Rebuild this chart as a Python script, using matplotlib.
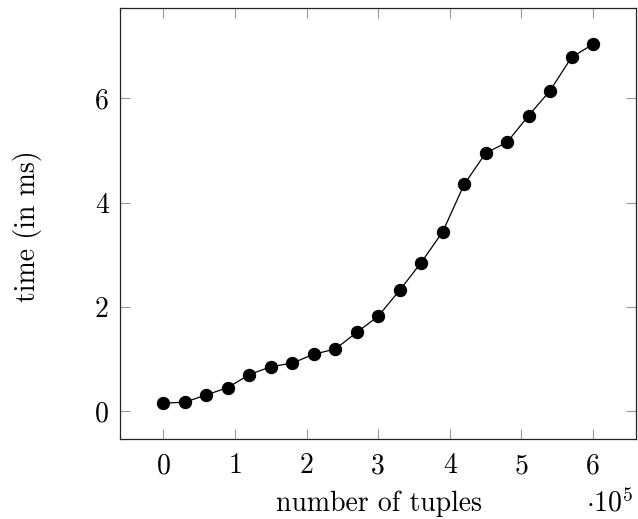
import matplotlib
matplotlib.use("Agg")
import matplotlib.pyplot as plt

n_tuples = [0, 30000, 60000, 90000, 120000, 150000, 180000, 210000, 240000, 270000,
            300000, 330000, 360000, 390000, 420000, 450000, 480000, 510000, 540000,
            570000, 600000]
time_ms = [0.15, 0.17, 0.31, 0.45, 0.70, 0.85, 0.92, 1.09, 1.19, 1.51,
           1.82, 2.32, 2.85, 3.44, 4.35, 4.95, 5.16, 5.67, 6.15, 6.79, 7.04]
x_ticks = [0, 1, 2, 3, 4, 5, 6]
y_ticks = [0, 2, 4, 6]

plt.rcParams['font.family'] = ['cmr10', 'DejaVu Serif']
plt.rcParams['mathtext.fontset'] = 'cm'
plt.rcParams['axes.formatter.use_mathtext'] = True

W, H = 638, 519
fig = plt.figure(figsize=(W/100, H/100), dpi=100)
ax = fig.add_axes([120.5/W, 1-439/H, 515.5/W, 430.7/H])

scale = 1e5
ax.plot([v/scale for v in n_tuples], time_ms, color='black', lw=0.9,
        marker='o', markersize=8.6, markerfacecolor='black', markeredgecolor='black')

ax.set_xlim(-0.6, 6.6)
ax.set_ylim(-0.537, 7.73)
ax.set_xticks(x_ticks)
ax.set_yticks(y_ticks)
ax.set_xticklabels([str(t) for t in x_ticks])
ax.set_yticklabels([str(t) for t in y_ticks])
ax.tick_params(direction='in', length=7.3, width=0.8, color='#999999',
               top=True, right=True, labelsize=20)
ax.tick_params(axis='x', pad=10)
ax.tick_params(axis='y', pad=8.5)
for s in ax.spines.values():
    s.set_linewidth(0.9)
    s.set_color('#222222')

fig.text(378.5/W, 1-511/H, 'number of tuples', fontsize=20, ha='center', va='baseline')
fig.text(28/W, 1-226/H, 'time (in ms)', fontsize=20, ha='center', va='center', rotation=90)
fig.text(610/W, 1-511/H, r'$\cdot 10^5$', fontsize=20, ha='center', va='baseline')

fig.savefig('out.png', dpi=100)
